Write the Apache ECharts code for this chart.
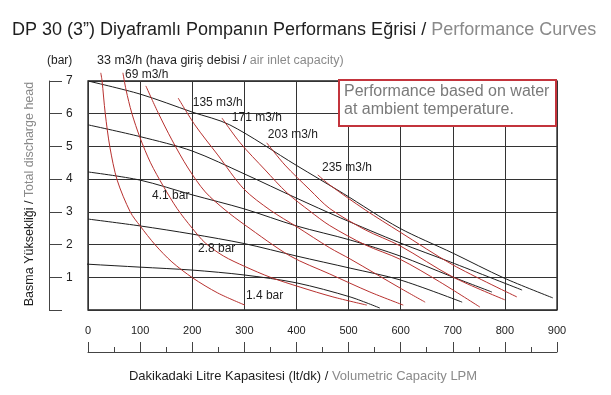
<!DOCTYPE html>
<html><head><meta charset="utf-8">
<script src="https://cdn.jsdelivr.net/npm/echarts@6/dist/echarts.min.js"></script>
<style>html,body{margin:0;padding:0;background:#fff}#c{width:611px;height:395px}</style>
</head><body><div id="c"></div>
<script>
// ---- data (flow l/min, head bar) ----
const xTicks = [0,100,200,300,400,500,600,700,800,900];
const yTicks = [1,2,3,4,5,6,7];
// air pressure lines (black)
const press70 = [[0,7.0],[100,6.6],[200,6.05],[272,5.66],[400,4.42],[490,3.56],[597,2.51],[700,1.74],[798,0.98],[892,0.37]];
const press55 = [[0,5.66],[100,5.30],[200,4.86],[300,4.16],[400,3.42],[484,2.82],[599,2.05],[695,1.47],[833,0.61]];
const press41 = [[0,4.22],[100,3.97],[200,3.52],[300,3.09],[400,2.57],[503,2.14],[599,1.65],[695,1.04],[775,0.55]];
const press28 = [[0,2.78],[100,2.57],[200,2.32],[300,2.03],[400,1.65],[503,1.28],[599,0.92],[718,0.24]];
const press14 = [[-7,1.41],[0,1.40],[100,1.31],[200,1.22],[300,1.07],[400,0.83],[503,0.40],[560,0.06]];
// air consumption lines (red)
const air33  = [[24.5,7.25],[27,7.0],[33,6.02],[42,4.98],[56,3.97],[81,3.0],[100,2.57],[129,1.99],[161,1.47],[201,0.98],[249,0.52],[301,0.15]];
const air69  = [[67,7.25],[73,6.73],[84,6.02],[100,5.26],[120,4.5],[144,3.8],[171,3.1],[200,2.5],[225,2.05],[260,1.65],[301,1.33],[350,1.0],[407,0.70],[470,0.4],[535,0.15]];
const air100 = [[111,6.85],[134,6.05],[161,5.20],[192,4.34],[225,3.61],[263,3.06],[301,2.60],[388,1.65],[464,1.10],[541,0.55],[605,0.15]];
const air135 = [[173,6.48],[205,5.66],[249,4.74],[299,3.70],[349,3.06],[401,2.54],[464,1.90],[503,1.56],[599,0.67],[647,0.24]];
const air171 = [[257,5.87],[292,5.11],[340,4.28],[382,3.58],[426,3.02],[464,2.58],[532,1.99],[599,1.55],[675,0.86],[752,0.09]];
const air203 = [[343,5.11],[378,4.43],[426,3.67],[464,3.10],[532,2.45],[599,1.96],[700,1.01],[800,0.31]];
const air235 = [[441,4.13],[464,3.82],[532,3.06],[599,2.38],[700,1.38],[823,0.40]];

const pressSeries = [press70, press55, press41, press28, press14];
const airSeries = [air33, air69, air100, air135, air171, air203, air235];

// curve label texts and their anchor points (data coords)
const curveLabelText = ['69 m3/h','135 m3/h','171 m3/h','203 m3/h','235 m3/h','4.1 bar','2.8 bar','1.4 bar'];
const curveLabelAt = [[71,7.18],[201,6.33],[276,5.87],[345,5.35],[449,4.34],[123,3.49],[211,1.88],[303,0.43]];

const FONT = 'Liberation Sans, Arial, Helvetica, sans-serif';
const BLACK = '#1e1e1e', GRAY = '#8a8a8a', RED = '#b8312f', GRID = '#333';

const chart = echarts.init(document.getElementById('c'), null, {renderer:'canvas'});

const series = [];
pressSeries.forEach(d => series.push({type:'line', data:d, xAxisIndex:0, yAxisIndex:0, showSymbol:false, smooth:0.3, clip:false,
  lineStyle:{color:BLACK, width:1}, z:3, silent:true}));
airSeries.forEach(d => series.push({type:'line', data:d, xAxisIndex:0, yAxisIndex:0, showSymbol:false, smooth:0.3, clip:false,
  lineStyle:{color:RED, width:1}, z:4, silent:true}));

const option = {
  animation:false,
  backgroundColor:'#fff',
  grid:{left:88, top:81, width:469, height:229, show:true, borderColor:'#222', borderWidth:1.3, backgroundColor:'transparent'},
  xAxis:[
    {type:'value', min:0, max:900, interval:100, axisLine:{show:false}, axisTick:{show:false}, axisLabel:{show:false},
     splitLine:{show:true, lineStyle:{color:GRID, width:1}}},
    {type:'value', min:0, max:900, interval:100, position:'bottom', offset:42,
     axisLine:{show:true, onZero:false, lineStyle:{color:'#444', width:1}},
     axisTick:{show:true, inside:true, length:10, lineStyle:{color:'#444'}},
     minorTick:{show:true, splitNumber:2, length:5, lineStyle:{color:'#444'}},
     axisLabel:{inside:true, margin:16, fontSize:11, color:'#222', fontFamily:FONT, showMinLabel:true, showMaxLabel:true},
     splitLine:{show:false}}
  ],
  yAxis:[
    {type:'value', min:0, max:7, interval:1, axisLine:{show:false}, axisTick:{show:false}, axisLabel:{show:false},
     splitLine:{show:true, lineStyle:{color:GRID, width:1}}},
    {type:'value', min:0, max:7, interval:1, position:'left', offset:39,
     axisLine:{show:true, onZero:false, lineStyle:{color:'#444', width:1}},
     axisTick:{show:true, inside:true, length:13, lineStyle:{color:'#444'}},
     axisLabel:{inside:true, margin:17, fontSize:12, color:'#222', fontFamily:FONT, formatter: v => (yTicks.indexOf(v) >= 0 ? String(v) : '')},
     splitLine:{show:false}}
  ],
  series: series
};
chart.setOption(option);

const graphics = [];
function txt(x, y, parts, size, extra){
  const rich = {a:{fill:BLACK, font: size+'px '+FONT}, b:{fill:GRAY, font: size+'px '+FONT}};
  const text = parts.map(p => '{'+p[0]+'|'+p[1]+'}').join('');
  return Object.assign({type:'text', x:x, y:y, z:100, style:{text:text, rich:rich, font:size+'px '+FONT, align:'left', verticalAlign:'middle'}}, extra||{});
}
graphics.push(txt(12, 30, [['a','DP 30 (3”) Diyaframlı Pompanın Performans Eğrisi / '],['b','Performance Curves']], 18));
graphics.push(txt(47, 61, [['a','(bar)']], 12));
graphics.push(txt(97, 61, [['a','33 m3/h (hava giriş debisi / '],['b','air inlet capacity)']], 12.5));
const yn = txt(30, 194, [['a','Basma Yüksekliği / '],['b','Total discharge head']], 12.5, {rotation:Math.PI/2});
yn.style.align = 'center';
graphics.push(yn);
const xn = txt(303, 376, [['a','Dakikadaki Litre Kapasitesi (lt/dk) / '],['b','Volumetric Capacity LPM']], 13);
xn.style.align = 'center';
graphics.push(xn);

curveLabelText.forEach((t,i) => {
  const p = chart.convertToPixel({xAxisIndex:0, yAxisIndex:0}, curveLabelAt[i]);
  graphics.push(txt(p[0], p[1], [['a', t]], 12));
});

// annotation box
graphics.push({type:'rect', z:100, shape:{x:339, y:80, width:217, height:46}, style:{fill:'#fff', stroke:'#c3343c', lineWidth:2}});
graphics.push({type:'text', z:101, x:344, y:92, style:{text:'Performance based on water', font:'16px '+FONT, fill:'#7a7a7a', align:'left', verticalAlign:'middle'}});
graphics.push({type:'text', z:101, x:344, y:110, style:{text:'at ambient temperature.', font:'16px '+FONT, fill:'#7a7a7a', align:'left', verticalAlign:'middle'}});

chart.setOption({graphic: graphics});
</script></body></html>
